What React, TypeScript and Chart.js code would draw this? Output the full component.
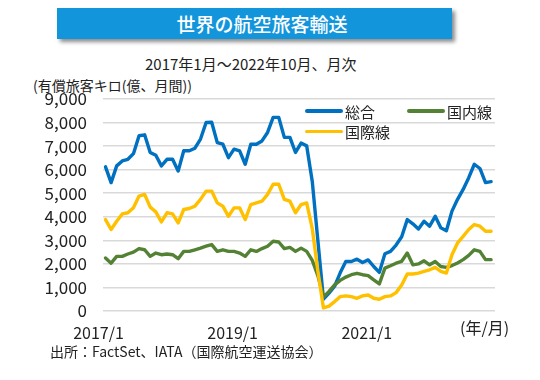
import React, { useEffect, useRef } from "react";
import { Chart, registerables } from "chart.js";

Chart.register(...registerables);

// Categories: monthly, 2017/1 .. 2022/10
const categories: string[] = [];
for (let y = 2017; y <= 2022; y++) {
  for (let m = 1; m <= 12; m++) {
    if (y === 2022 && m > 10) break;
    categories.push(`${y}/${m}`);
  }
}

const xTickLabels = ["2017/1", "2019/1", "2021/1"];
const yTickValues = [0, 1000, 2000, 3000, 4000, 5000, 6000, 7000, 8000, 9000];

// 総合 (有償旅客キロ, 億)
const total = [
  6120, 5450, 6160, 6370, 6440, 6680, 7440, 7480, 6730, 6610, 6160, 6440,
  6440, 5940, 6800, 6800, 6910, 7300, 8000, 8010, 7150, 7080, 6510, 6870,
  6800, 6230, 7080, 7080, 7220, 7580, 8220, 8220, 7370, 7370, 6730, 7130,
  7010, 5500, 3000, 500, 760, 1050, 1620, 2100, 2100, 2200, 2060, 2170,
  1890, 1640, 2430, 2530, 2800, 3150, 3880, 3700, 3480, 3810, 3600, 4020,
  3530, 3410, 4240, 4740, 5160, 5660, 6230, 6050, 5450, 5490,
];

// 国内線
const domestic = [
  2250, 2030, 2320, 2320, 2420, 2500, 2650, 2600, 2320, 2460, 2390, 2420,
  2390, 2220, 2530, 2530, 2600, 2670, 2750, 2820, 2530, 2600, 2530, 2530,
  2460, 2320, 2600, 2530, 2650, 2750, 2960, 2930, 2650, 2700, 2530, 2670,
  2530, 2150, 1500, 600, 830, 1110, 1300, 1440, 1540, 1600, 1540, 1500,
  1320, 1150, 1820, 1920, 2030, 2110, 2460, 1960, 2000, 2130, 1960, 2100,
  1890, 1850, 1930, 2040, 2180, 2360, 2600, 2530, 2180, 2180,
];

// 国際線
const international = [
  3880, 3460, 3810, 4120, 4170, 4380, 4880, 4950, 4410, 4210, 3780, 4170,
  4120, 3740, 4310, 4350, 4450, 4740, 5090, 5090, 4590, 4450, 4020, 4380,
  4380, 3880, 4520, 4590, 4660, 4950, 5380, 5380, 4740, 4660, 4170, 4520,
  4590, 3500, 1700, 130, 210, 400, 610, 640, 610, 540, 640, 680,
  540, 500, 610, 640, 780, 1100, 1570, 1570, 1610, 1680, 1750, 1850,
  1680, 1610, 2390, 2890, 3170, 3460, 3670, 3600, 3385, 3385,
];

const seriesNames = ["総合", "国内線", "国際線"];
const seriesColors = ["#0070C0", "#548235", "#FFC000"];

const FONT = "'Noto Sans CJK JP', 'Noto Sans', sans-serif";

export default function App() {
  const canvasRef = useRef<HTMLCanvasElement | null>(null);

  useEffect(() => {
    const canvas = canvasRef.current;
    if (!canvas) return;
    const series = [total, domestic, international];
    const xTickIndexes = xTickLabels.map((l) => categories.indexOf(l));
    const chart = new Chart(canvas, {
      type: "line",
      data: {
        datasets: series.map((vals, si) => ({
          label: seriesNames[si],
          data: vals.map((v, i) => ({ x: i, y: v })),
          borderColor: seriesColors[si],
          backgroundColor: seriesColors[si],
          borderWidth: 3.4,
          pointRadius: 0,
          tension: 0,
          fill: false,
          borderJoinStyle: "round" as const,
          borderCapStyle: "round" as const,
          order: 3 - si,
        })),
      },
      options: {
        responsive: false,
        animation: false,
        devicePixelRatio: 1,
        layout: { padding: { left: 0, top: 99, right: 45, bottom: 0 } },
        plugins: {
          legend: { display: false },
          tooltip: { enabled: false },
          title: { display: false },
        },
        scales: {
          x: {
            type: "linear",
            min: -0.45,
            max: 69.7,
            grid: { display: false },
            border: { display: false },
            afterBuildTicks: (s: any) => {
              s.ticks = xTickIndexes.map((v) => ({ value: v }));
            },
            afterFit: (s: any) => {
              s.height = 69;
            },
            ticks: {
              autoSkip: false,
              maxRotation: 0,
              minRotation: 0,
              labelOffset: -7,
              padding: 4,
              color: "#222",
              font: { family: FONT, size: 16 },
              callback: (v: any) => categories[Math.round(Number(v))] ?? "",
            },
          },
          y: {
            min: 0,
            max: 9000,
            afterBuildTicks: (s: any) => {
              s.ticks = yTickValues.map((v) => ({ value: v }));
            },
            afterFit: (s: any) => {
              s.width = 103;
            },
            grid: { color: "#d9d9d9", lineWidth: 1.5, drawTicks: false },
            border: { display: false },
            ticks: {
              padding: 16,
              color: "#222",
              font: { family: FONT, size: 17 },
              callback: (v: any) => Number(v).toLocaleString("en-US"),
            },
          },
        },
      },
    });
    return () => chart.destroy();
  }, []);

  const textBase: React.CSSProperties = {
    position: "absolute",
    fontFamily: FONT,
    color: "#222",
    whiteSpace: "nowrap",
    lineHeight: 1,
  };

  const legendPos = [
    { left: 305, top: 111 },
    { left: 407, top: 111 },
    { left: 305, top: 131.5 },
  ];

  return (
    <div
      style={{
        position: "fixed",
        left: 0,
        top: 0,
        width: 540,
        height: 380,
        background: "#fff",
        overflow: "hidden",
      }}
    >
      <div
        style={{
          position: "absolute",
          left: 57,
          top: 8,
          width: 395,
          height: 31,
          background: "#1395dc",
          boxShadow: "3px 3px 4px rgba(0,0,0,0.45)",
          color: "#fff",
          fontFamily: FONT,
          fontSize: 19,
          fontWeight: 500,
          lineHeight: "31px",
          textAlign: "center",
          paddingLeft: 15,
          boxSizing: "border-box",
        }}
      >
        世界の航空旅客輸送
      </div>
      <div style={{ ...textBase, left: 145, top: 56, fontSize: 15 }}>
        2017年1月～2022年10月、月次
      </div>
      <div style={{ ...textBase, left: 33, top: 78, fontSize: 14 }}>
        (有償旅客キロ(億、月間))
      </div>
      <canvas
        ref={canvasRef}
        width={540}
        height={380}
        style={{ position: "absolute", left: 0, top: 0, width: 540, height: 380 }}
      />
      {seriesNames.map((name, i) => (
        <div
          key={name}
          style={{
            position: "absolute",
            left: legendPos[i].left,
            top: legendPos[i].top - 8,
            height: 16,
            display: "flex",
            alignItems: "center",
          }}
        >
          <span
            style={{
              display: "inline-block",
              width: 38,
              height: 3.5,
              background: seriesColors[i],
              borderRadius: 2,
            }}
          />
          <span
            style={{
              marginLeft: 2,
              fontFamily: FONT,
              fontSize: 15,
              color: "#222",
              lineHeight: 1,
              whiteSpace: "nowrap",
            }}
          >
            {name}
          </span>
        </div>
      ))}
      <div style={{ ...textBase, left: 460, top: 319, fontSize: 16 }}>(年/月)</div>
      <div style={{ ...textBase, left: 50, top: 344, fontSize: 14 }}>
        出所：FactSet、IATA（国際航空運送協会）
      </div>
    </div>
  );
}
